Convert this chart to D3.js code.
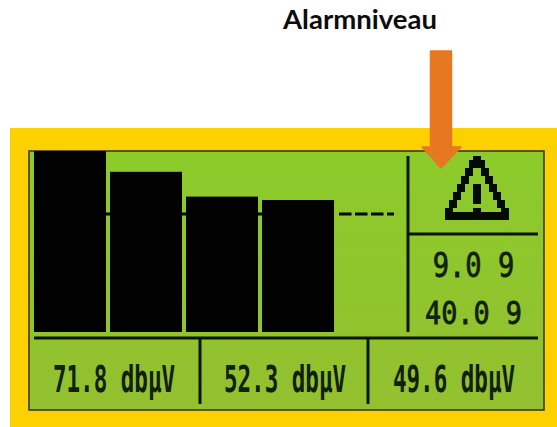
<!DOCTYPE html>
<html>
<head>
<meta charset="utf-8">
<script src="https://cdn.jsdelivr.net/npm/d3@7"></script>
<style>
  html, body { margin: 0; padding: 0; background: #fff; }
  svg { display: block; }
  .lcd { font-family: "DejaVu Sans Mono", monospace; fill: #10200a; }
</style>
</head>
<body>
<div id="chart"></div>
<script>
// Data
const bars = ['1', '2', '3', '4']
const levels = [100, 88.5, 74.8, 72.9]
const alarmLevel = 65.2
const readouts = ['71.8 dbµV', '52.3 dbµV', '49.6 dbµV']
const alarmValues = ['9.0 9', '40.0 9']
const title = 'Alarmniveau'

// warning icon, one char per lcd pixel
const warningIcon = [
  '.......##.......',
  '......####......',
  '......####......',
  '.....##..##.....',
  '.....##..##.....',
  '....##....##....',
  '....##....##....',
  '...##..##..##...',
  '...##..##..##...',
  '..##...##...##..',
  '..##...##...##..',
  '.##....##....##.',
  '.##..........##.',
  '##.....##.....##',
  '################',
  '################'
]

const width = 557
const height = 427

const svg = d3.select('#chart')
  .append('svg')
  .attr('width', width)
  .attr('height', height)

const defs = svg.append('defs')
const grad = defs.append('linearGradient')
  .attr('id', 'lcdGreen')
  .attr('x1', 0).attr('x2', 0).attr('y1', 0).attr('y2', 1)
grad.append('stop').attr('offset', '0%').attr('stop-color', '#8ccb2a')
grad.append('stop').attr('offset', '100%').attr('stop-color', '#93c030')

// housing and display
svg.append('rect')
  .attr('x', 10).attr('y', 128)
  .attr('width', 547).attr('height', 299)
  .attr('fill', '#fdd000')

svg.append('rect')
  .attr('x', 29).attr('y', 151)
  .attr('width', 515).attr('height', 259)
  .attr('fill', 'url(#lcdGreen)')
  .attr('stroke', '#3d3a12')
  .attr('stroke-width', 1.6)

// scales
const x = d3.scaleBand()
  .domain(bars)
  .range([32, 336])
  .paddingInner(0.053)
  .paddingOuter(0.026)

const y = d3.scaleLinear()
  .domain([0, 100])
  .range([332, 151])

// alarm threshold, runs behind the bars and dashes out after the last one
svg.append('line')
  .attr('x1', x('1'))
  .attr('x2', x('4') + x.bandwidth())
  .attr('y1', y(alarmLevel))
  .attr('y2', y(alarmLevel))
  .attr('stroke', '#050505')
  .attr('stroke-width', 3)

svg.append('line')
  .attr('x1', 339)
  .attr('x2', 394)
  .attr('y1', y(alarmLevel))
  .attr('y2', y(alarmLevel))
  .attr('stroke', '#050505')
  .attr('stroke-width', 3)
  .attr('stroke-dasharray', '12.5 3.5')

svg.append('g')
  .selectAll('rect')
  .data(levels)
  .join('rect')
  .attr('x', (d, i) => x(bars[i]))
  .attr('y', d => y(d))
  .attr('width', x.bandwidth())
  .attr('height', d => y(0) - y(d))
  .attr('fill', '#020202')

// divider lines
const dividers = [
  [408, 156, 408, 332],
  [408, 234, 538, 234],
  [34, 338, 538, 338],
  [200, 338, 200, 404],
  [368, 338, 368, 404]
]
svg.append('g')
  .selectAll('line')
  .data(dividers)
  .join('line')
  .attr('x1', d => d[0])
  .attr('y1', d => d[1])
  .attr('x2', d => d[2])
  .attr('y2', d => d[3])
  .attr('stroke', '#0a1505')
  .attr('stroke-width', 3)

// warning icon
const pw = 4
const ph = 4
const icon = svg.append('g')
  .attr('transform', 'translate(445, 156)')
  .attr('shape-rendering', 'crispEdges')
warningIcon.forEach((row, r) => {
  row.split('').forEach((c, k) => {
    if (c === '#') {
      icon.append('rect')
        .attr('x', k * pw)
        .attr('y', r * ph)
        .attr('width', pw)
        .attr('height', ph)
        .attr('fill', '#050a02')
    }
  })
})

// readouts, squeezed like the lcd font
const lcdText = (cx, cy, text, size, sx, weight, sw) => {
  svg.append('text')
    .attr('class', 'lcd')
    .attr('transform', `translate(${cx}, ${cy}) scale(${sx}, 1)`)
    .attr('text-anchor', 'middle')
    .attr('font-size', size)
    .attr('font-weight', weight)
    .attr('stroke', '#10200a')
    .attr('stroke-width', sw)
    .text(text)
}

const readoutX = [114, 285, 454]
readouts.forEach((t, i) => lcdText(readoutX[i], 392, t, 37, 0.61, 'bold', 0))

lcdText(473.5, 277, alarmValues[0], 33, 0.82, 'normal', 0.8)
lcdText(473.5, 324, alarmValues[1], 32, 0.84, 'normal', 0.8)

// title and arrow
svg.append('text')
  .attr('x', 360)
  .attr('y', 29)
  .attr('text-anchor', 'middle')
  .attr('font-family', 'Lato, sans-serif')
  .attr('font-weight', 'bold')
  .attr('font-size', 27.5)
  .attr('fill', '#0c0c0c')
  .text(title)

const arrow = d3.path()
arrow.moveTo(430.5, 51)
arrow.lineTo(451.5, 51)
arrow.lineTo(451.5, 147)
arrow.lineTo(461, 147)
arrow.lineTo(441, 168)
arrow.lineTo(422, 147)
arrow.lineTo(430.5, 147)
arrow.closePath()
svg.append('path')
  .attr('d', arrow.toString())
  .attr('fill', '#e87722')
  .attr('stroke', '#e87722')
  .attr('stroke-width', 1.5)
  .attr('stroke-linejoin', 'round')
</script>
</body>
</html>
